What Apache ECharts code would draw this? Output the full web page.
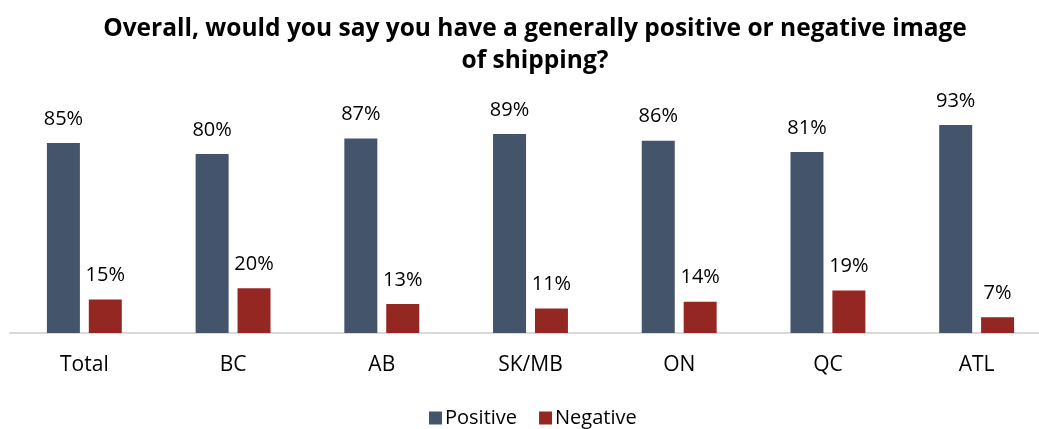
<!DOCTYPE html>
<html><head><meta charset="utf-8">
<script src="https://cdn.jsdelivr.net/npm/echarts@6/dist/echarts.min.js"></script>
<style>html,body{margin:0;padding:0;background:#fff}#c{width:1039px;height:429px}</style>
</head><body><div id="c"></div>
<script>
const categories = ["Total", "BC", "AB", "SK/MB", "ON", "QC", "ATL"];
const positive = [85, 80, 87, 89, 86, 81, 93];
const negative = [15, 20, 13, 11, 14, 19, 7];
const titleText = "Overall, would you say you have a generally positive or negative image\nof shipping?";

const FONT = "'Open Sans', 'Liberation Sans', sans-serif";
const chart = echarts.init(document.getElementById('c'), null, {renderer: 'canvas'});
const lbl = {show: true, position: 'top', distance: 14, formatter: '{c}%', color: '#000', fontSize: 20, fontFamily: FONT};
chart.setOption({
  animation: false,
  title: {
    text: titleText, left: 530, top: 8, textAlign: 'center',
    textStyle: {fontFamily: FONT, fontWeight: 'bold', fontSize: 24.5, lineHeight: 32, color: '#000'}
  },
  legend: {
    data: ['Positive', 'Negative'], left: 424, top: 403, itemWidth: 13, itemHeight: 13, itemGap: 22,
    icon: 'rect', textStyle: {fontFamily: FONT, fontSize: 20, color: '#000', padding: [0, 0, 0, -2]}
  },
  grid: {left: 10, width: 1041, top: 109.4, bottom: 96, containLabel: false, outerBoundsMode: 'none'},
  xAxis: {
    type: 'category', data: categories,
    axisLine: {lineStyle: {color: '#d9d9d9', width: 2}}, axisTick: {show: false},
    axisLabel: {color: '#000', fontSize: 21, fontFamily: FONT, margin: 22}
  },
  yAxis: {type: 'value', min: 0, max: 100, show: false, splitLine: {show: false}},
  series: [
    {name: 'Positive', type: 'bar', data: positive, barWidth: 33, barGap: '27%', itemStyle: {color: '#44546A'}, label: lbl},
    {name: 'Negative', type: 'bar', data: negative, barWidth: 33, itemStyle: {color: '#952722'}, label: lbl}
  ]
});
</script></body></html>
